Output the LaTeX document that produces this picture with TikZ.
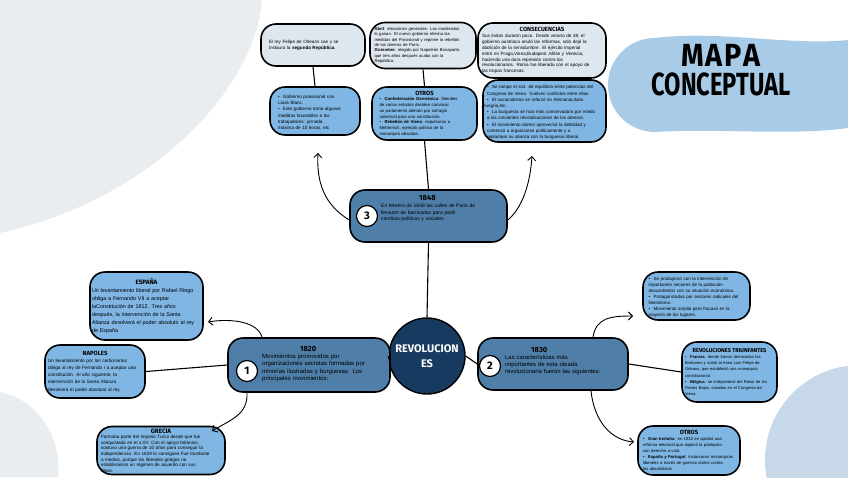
\documentclass[tikz,border=0pt]{standalone}
\usepackage{fontspec}
\setmainfont{Liberation Sans}
\newfontfamily\headfont{Fira Sans}
\usetikzlibrary{arrows.meta}
\definecolor{navy}{HTML}{173B60}
\definecolor{midblue}{HTML}{4F7EA8}
\definecolor{ltblue}{HTML}{7FB6E3}
\definecolor{pale}{HTML}{DEE6EE}
\definecolor{bggray}{HTML}{E9EDF0}
\definecolor{bgblue}{HTML}{A8CBE7}
\definecolor{bgblue2}{HTML}{C7D9E8}
\newcommand{\bul}[1]{\par\noindent\hangindent=5pt\hangafter=1\hbox to 5pt{\textbullet\hss}#1}
\newcommand{\ttl}[1]{{\centering\headfont\bfseries #1\par}}
\begin{document}
\begin{tikzpicture}[x=1pt,y=-1pt,
  box/.style={draw=black,line width=1.6pt,rounded corners=15pt,inner sep=0pt,align=left},
  content/.style={box,fill=ltblue},
  upper/.style={box,fill=pale},
  era/.style={box,fill=midblue},
  txt/.style={inner sep=0pt,align=left,anchor=north west},
  num/.style={circle,draw=black,line width=1.2pt,fill=white,minimum size=21pt,inner sep=0pt,font=\headfont\bfseries\fontsize{11}{11}\selectfont},
  link/.style={line width=1.1pt},
  arr/.style={line width=0.9pt,-{Straight Barb[length=4pt,width=8pt,line width=0.9pt]}}
]
\useasboundingbox (0,0) rectangle (848,477);
% background blobs
\fill[bggray] (0,0) -- (262,0) .. controls (255,90) and (150,200) .. (0,233) -- cycle;
\fill[bggray] (0,392) .. controls (40,400) and (62,440) .. (58,477) -- (0,477) -- cycle;
\fill[bgblue] (655,38) .. controls (720,30) and (790,46) .. (848,40) -- (848,128) .. controls (790,136) and (720,128) .. (655,132) .. controls (630,132) and (608,112) .. (608,85) .. controls (608,58) and (630,38) .. (655,38) -- cycle;
\fill[bgblue2] (860,460) circle (95pt);

% title
\node[inner sep=0pt] (title) at (721,72) {\begin{tabular}{@{}c@{}}\scalebox{0.9}[1]{\headfont\bfseries\fontsize{32}{33}\selectfont M\hspace{2pt}A\hspace{2pt}P\hspace{2pt}A}\\[3pt]\scalebox{0.74}[1]{\headfont\bfseries\fontsize{32}{33}\selectfont CONCEPTUAL}\end{tabular}};

% central node
\node[circle,draw=black,line width=1.4pt,fill=navy,minimum size=76pt,inner sep=0pt,text=white,align=center,font=\headfont\bfseries\fontsize{11}{15}\selectfont] (rev) at (427,356) {REVOLUCION\\ES};

% era pills
\node[era,minimum width=162pt,minimum height=54pt] (n20) at (309,365) {};
\node[era,minimum width=150pt,minimum height=52pt] (n30) at (553,364) {};
\node[era,minimum width=157pt,minimum height=52pt] (n48) at (428.5,216) {};
\node[num] (c1) at (247,371) {1};
\node[num] (c2) at (490,366) {2};
\node[num] (c3) at (367,216) {3};
\node[txt,text width=112pt,font=\fontsize{6}{7.3}\selectfont] (t20) at (262,346) {\hspace*{38pt}{\headfont\bfseries\fontsize{7.5}{8}\selectfont 1820}\\Movimientos promovidos por\\organizaciones secretas formadas por\\minorías ilustradas y burguesas. Los\\principales movimientos:};
\node[txt,text width=110pt,font=\fontsize{5.9}{7.2}\selectfont] (t30) at (505,347) {\hspace*{26pt}{\headfont\bfseries\fontsize{7.5}{8}\selectfont 1830}\\Las características más\\importantes de esta oleada\\revolucionaria fueron las siguientes:};
\node[txt,text width=110pt,font=\fontsize{5}{6.4}\selectfont] (t48) at (381,195) {\hspace*{38pt}{\headfont\bfseries\fontsize{7.5}{8}\selectfont 1848}\\[1pt]En febrero de 1848 las calles de París de\\llenaron de barricadas para pedir\\cambios políticos y sociales.};

% top boxes
\node[upper,minimum width=104pt,minimum height=42pt,text width=88pt,font=\fontsize{4.6}{6}\selectfont] (tb1) at (313,45) {El rey Felipe de Orleans cae y se\\instaura la \textbf{segunda República}.};
\node[upper,minimum width=106pt,minimum height=46pt,text width=97pt,font=\fontsize{4.2}{5.4}\selectfont] (tb2) at (423,45.5) {\textbf{Abril}: elecciones generales. Los moderados\\lo ganan. El nuevo gobierno elimina las\\medidas del Provisional y reprime la rebelión\\de los obreros de París.\\\textbf{Diciembre}: elegido por Napoleón Bonaparte,\\que tres años después acaba con la\\República.};
\node[upper,minimum width=128pt,minimum height=55pt,text width=120pt,font=\fontsize{4.6}{5.9}\selectfont] (tb3) at (542,50.5) {\ttl{\fontsize{6}{6.5}\selectfont CONSECUENCIAS}Sus éxitos duraron poco. Desde verano de 48, el\\gobierno austriaco anuló las reformas, solo dejó la\\abolición de la servidumbre. El ejército imperial\\entró en Praga,Viena,Budapest ,Milán y Venecia,\\haciendo una dura represión contra los\\revolucionarios. Roma fue liberada con el apoyo de\\las tropas francesas.};

% lower boxes
\node[content,minimum width=90pt,minimum height=48pt,text width=74pt,font=\fontsize{4.6}{6.3}\selectfont] (lb1) at (315,111) {\bul{Gobierno provisional con\\Louis Blanc.}\bul{Este gobierno toma algunas\\medidas favorables a los\\trabajadores: jornada\\máxima de 10 horas, etc}};
\node[content,minimum width=105pt,minimum height=53pt,text width=90pt,font=\fontsize{4.3}{5.7}\selectfont] (lb2) at (424.5,113.5) {\ttl{\fontsize{6}{6.5}\selectfont OTROS}\bul{\textbf{Confederación Germánica}: liberales\\de varios estados deciden convocar\\un parlamento alemán por sufragio\\universal para una constitución.}\bul{\textbf{Rebelión de Viena}: expulsaron a\\Metternich, ejemplo político de la\\monarquía absoluta.}};
\node[content,minimum width=123pt,minimum height=62pt,text width=115pt,font=\fontsize{4.5}{6.2}\selectfont] (lb3) at (544.5,111) {\bul{Se rompe el sist. de equilibrio entre potencias del\\Congreso de Viena. Vuelven conflictos entre ellas.}\bul{El nacionalismo se reforzó en Alemania,Italia\\\hspace*{-6pt},Hungría,etc.}\bul{La burguesía se hizo más conservadora por miedo\\a las crecientes reivindicaciones de los obreros.}\bul{El movimiento obrero aprovechó la debilidad y\\comenzó a organizarse políticamente y a\\replantear su alianza con la burguesía liberal.}};

% left boxes
\node[content,minimum width=113pt,minimum height=68pt,text width=109pt,font=\fontsize{5.4}{8}\selectfont] (esp) at (146.5,306) {\ttl{\fontsize{6.3}{7}\selectfont ESPAÑA}Un levantamiento liberal por Rafael Riego\\obliga a Fernando VII a aceptar\\laConstitución de 1812. Tres años\\después, la intervención de la Santa\\Alianza devolverá el poder absoluto al rey\\de España};
\node[content,minimum width=100pt,minimum height=53pt,text width=94pt,font=\fontsize{4.7}{7.2}\selectfont] (nap) at (95,371.5) {\ttl{\fontsize{6}{7}\selectfont NAPOLES}Un levantamiento por los carbonarios\\obliga al rey de Fernando I a aceptar una\\constitución. Al año siguiente, la\\intervención de la Santa Alianza\\devolverá el poder absoluto al rey.};
\node[content,minimum width=128pt,minimum height=48pt,text width=120pt,font=\fontsize{4.6}{5.6}\selectfont] (gre) at (161,450.5) {\ttl{\fontsize{6.3}{6.5}\selectfont GRECIA}Formaba parte del Imperio Turco desde que fue\\conquistada en el s.XV. Con el apoyo británico,\\sostuvo una guerra de 10 años para conseguir la\\independencia. En 1829 lo consiguen.Fue triunfante\\a medias, porque los liberales griegos no\\establecieron un régimen de acuerdo con sus\\ideas.};

% right boxes
\node[content,minimum width=107pt,minimum height=48pt,text width=96pt,font=\fontsize{4.5}{6.1}\selectfont] (rb1) at (696.5,296) {\bul{Se produjeron con la intervención de\\importantes sectores de la población\\descontentos con su situación económica.}\bul{Protagonizadas por sectores radicales del\\liberalismo.}\bul{Movimiento amplio pero fracasó en la\\mayoría de los lugares.}};
\node[content,minimum width=95pt,minimum height=60pt,text width=89pt,font=\fontsize{4.1}{6.2}\selectfont] (rb2) at (729.5,372) {\ttl{\fontsize{5.6}{6.5}\selectfont REVOLUCIONES TRIUNFANTES}\bul{\textbf{Francia}: donde fueron derrocados los\\Borbones y subió al trono Luis Felipe de\\Orleans, que estableció una monarquía\\constitucional.}\bul{\textbf{Bélgica}: se independizó del Reino de los\\Países Bajos, creados en el Congreso de\\Viena.}};
\node[content,minimum width=102pt,minimum height=49pt,text width=92pt,font=\fontsize{4.2}{6}\selectfont] (rb3) at (689,450.5) {\ttl{\fontsize{6}{6.5}\selectfont OTROS}\bul{\textbf{Gran bretaña}: en 1832 se aprobó una\\reforma electoral que duplicó la población\\con derecho a voto.}\bul{\textbf{España y Portugal}: instauraron monarquías\\liberales a través de guerras civiles contra\\los absolutistas.}};

% straight links
\draw[link] (tb1.south) -- (lb1.north);
\draw[link] (tb2.south) -- (lb2.north);
\draw[link] (tb3.south) -- (lb3.north);
\draw[link] (lb2.south) -- (n48.north);
\draw[link] (n48.south) -- (rev.north);
\draw[link] (n20.east) -- (rev.west);
\draw[link] (rev.east) -- (n30.west);
\draw[link] (nap.east) -- (n20.west);
\draw[link] (n30.east) -- (rb2.west);

% curved arrows
\coordinate (a48l) at (318,153);
\coordinate (a48r) at (532,156);
\coordinate (aesp) at (208,322);
\coordinate (agre) at (212,431);
\coordinate (arb1) at (633,316);
\coordinate (arb3) at (634,442);
\draw[arr] ([yshift=-4pt]n48.west) .. controls (330,208) and (316,190) .. (a48l);
\draw[arr] ([yshift=-4pt]n48.east) .. controls (522,208) and (530,185) .. (a48r);
\draw[arr] ([xshift=-47pt]n20.north) .. controls (258,322) and (232,318) .. (aesp);
\draw[arr] ([xshift=-62pt]n20.south) .. controls (248,415) and (230,420) .. (agre);
\draw[arr] ([xshift=40pt]n30.north) .. controls (596,318) and (610,316) .. (arb1);
\draw[arr] ([xshift=38pt]n30.south) .. controls (594,420) and (610,440) .. (arb3);
\end{tikzpicture}
\end{document}
